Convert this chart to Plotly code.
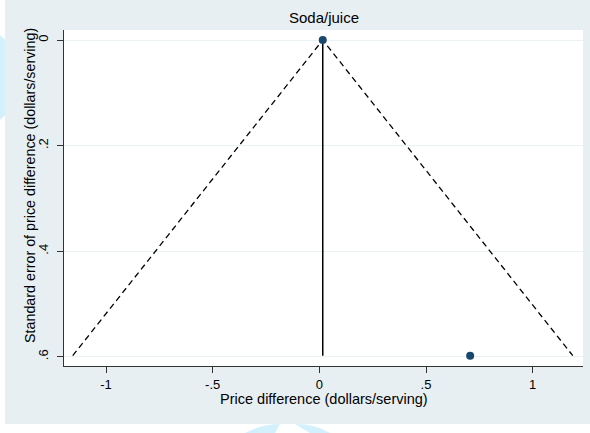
import plotly.graph_objects as go

# Study estimates for the soda/juice category
study_effect = [0.016, 0.707]      # price difference (dollars/serving)
study_se = [0.0, 0.598]            # standard error of the difference
pooled_effect = 0.016
z_crit = 1.96

x_tick_vals = [-1, -0.5, 0, 0.5, 1]
x_tick_text = ["-1", "-.5", "0", ".5", "1"]
y_tick_vals = [0, 0.2, 0.4, 0.6]
y_tick_text = ["0", ".2", ".4", ".6"]

W, H = 590, 433
ML, MR, MT, MB = 64, 7, 30, 67
PW, PH = W - ML - MR, H - MT - MB

def px_x(px):
    return (px - ML) / PW

def px_y(py):
    return (H - MB - py) / PH

se_max = max(study_se)
funnel_x = [pooled_effect - z_crit * se_max, pooled_effect, pooled_effect + z_crit * se_max]
funnel_y = [se_max, 0, se_max]

ink = "#000000"
navy = "#1a476f"
grid = "#eaf2f3"
outer = "#e8eff2"

fig = go.Figure()

# pseudo-confidence funnel
fig.add_trace(go.Scatter(
    x=funnel_x, y=funnel_y, mode="lines",
    line=dict(color=ink, width=1.3, dash="6px,4px"),
    hoverinfo="skip", showlegend=False,
))
# pooled estimate line
fig.add_trace(go.Scatter(
    x=[pooled_effect, pooled_effect], y=[0, se_max], mode="lines",
    line=dict(color=ink, width=1.5),
    hoverinfo="skip", showlegend=False,
))
# individual studies
fig.add_trace(go.Scatter(
    x=study_effect, y=study_se, mode="markers",
    marker=dict(color=navy, size=8),
    showlegend=False,
))

shapes = [
    # light cyan decoration along the page edges
    dict(type="path", xref="paper", yref="paper", layer="below",
         path=f"M {px_x(0)},{px_y(35)} L {px_x(5)},{px_y(40)} L {px_x(5)},{px_y(115)} L {px_x(0)},{px_y(120)} Z",
         fillcolor="#d2f1fc", line=dict(width=0)),
    dict(type="path", xref="paper", yref="paper", layer="below",
         path=f"M {px_x(245)},{px_y(433)} Q {px_x(262)},{px_y(424)} {px_x(280)},{px_y(424)} L {px_x(275)},{px_y(433)} Z",
         fillcolor="#d2f1fc", line=dict(width=0)),
    dict(type="path", xref="paper", yref="paper", layer="below",
         path=f"M {px_x(295)},{px_y(424)} Q {px_x(315)},{px_y(424)} {px_x(330)},{px_y(433)} L {px_x(310)},{px_y(433)} Z",
         fillcolor="#d2f1fc", line=dict(width=0)),
    # outer graph region
    dict(type="rect", xref="paper", yref="paper", layer="below",
         x0=px_x(5), x1=px_x(590), y0=px_y(424), y1=px_y(0),
         fillcolor=outer, line=dict(width=0)),
    # plot region
    dict(type="rect", xref="paper", yref="paper", layer="below",
         x0=0, x1=1, y0=0, y1=1, fillcolor="white", line=dict(width=0)),
]

annotations = [
    dict(text="Soda/juice", xref="paper", yref="paper", x=0.5, y=px_y(18),
         showarrow=False, xanchor="center", yanchor="middle",
         font=dict(size=15, color=ink)),
    dict(text="Price difference (dollars/serving)", xref="paper", yref="paper",
         x=0.5, y=px_y(399), showarrow=False, xanchor="center", yanchor="middle",
         font=dict(size=14.5, color=ink)),
    dict(text="Standard error of price difference (dollars/serving)", xref="paper", yref="paper",
         x=px_x(30), y=px_y(186), showarrow=False, xanchor="center", yanchor="middle",
         textangle=-90, font=dict(size=14.3, color=ink)),
]

fig.update_layout(
    width=W, height=H,
    margin=dict(l=ML, r=MR, t=MT, b=MB, pad=0),
    paper_bgcolor="white",
    plot_bgcolor="rgba(0,0,0,0)",
    font=dict(family="Liberation Sans, Arial, sans-serif", color=ink),
    shapes=shapes,
    annotations=annotations,
    xaxis=dict(
        range=[-1.197, 1.236], tickvals=x_tick_vals, ticktext=x_tick_text,
        showgrid=False, zeroline=False,
        showline=True, linecolor="#333333", linewidth=1.2,
        ticks="outside", ticklen=6, tickcolor="#333333", tickwidth=1,
        tickfont=dict(size=13, color=ink),
    ),
    yaxis=dict(
        range=[0.6176, -0.019], tickvals=y_tick_vals, ticktext=y_tick_text,
        showgrid=True, gridcolor=grid, gridwidth=1, zeroline=False,
        showline=True, linecolor="#333333", linewidth=1.2,
        ticks="outside", ticklen=6, tickcolor="#333333", tickwidth=1,
        tickangle=-90, tickfont=dict(size=13, color=ink),
        ticklabelstandoff=4,
    ),
)

fig.write_html("out.html")
